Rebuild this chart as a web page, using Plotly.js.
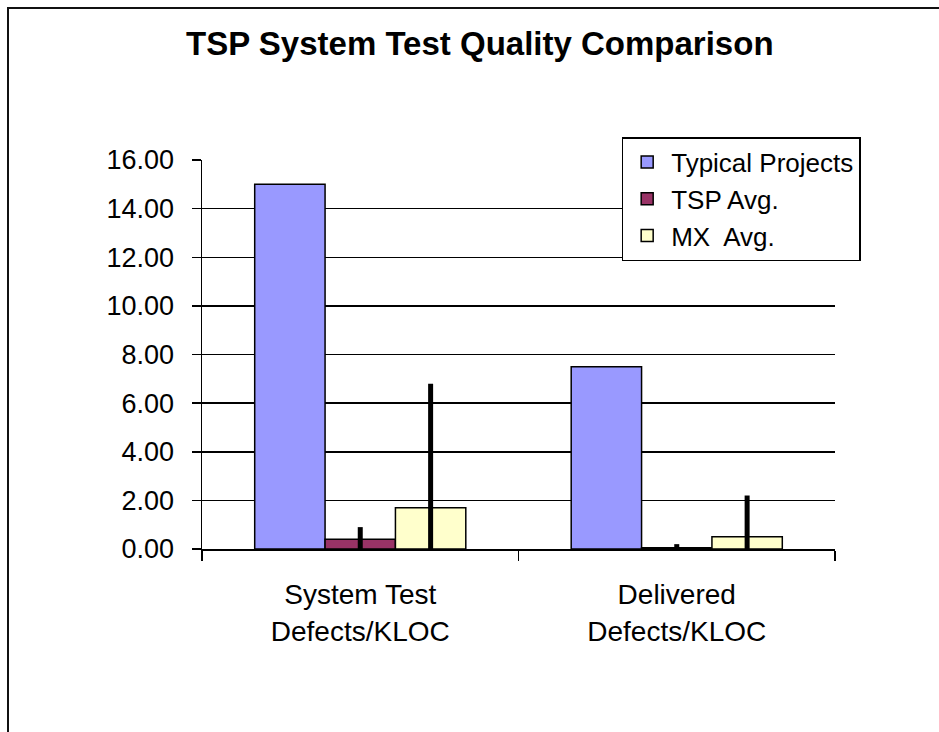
<!DOCTYPE html>
<html>
<head>
<meta charset="utf-8">
<script src="https://cdn.plot.ly/plotly-3.0.1.min.js"></script>
<style>
  html, body { margin: 0; padding: 0; background: #fff; }
  #wrap { position: relative; width: 939px; height: 732px; overflow: hidden; }
  #chart { position: absolute; left: 0; top: 0; width: 939px; height: 732px; }
  #frame { position: absolute; left: 7px; top: 7px; width: 960px; height: 800px;
           border-left: 2px solid #111; border-top: 2px solid #111; pointer-events: none; }
</style>
</head>
<body>
<div id="wrap">
  <div id="chart"></div>
  <div id="frame"></div>
</div>
<script>
const categories = ["System Test<br>Defects/KLOC", "Delivered<br>Defects/KLOC"];
const seriesNames = ["Typical Projects", "TSP Avg.", "MX  Avg."];
const typicalValues = [15.0, 7.5];
const tspValues = [0.4, 0.05];
const mxValues = [1.7, 0.5];
const tspErrors = [0.5, 0.15];
const mxErrors = [5.1, 1.7];
const yTickValues = [0, 2, 4, 6, 8, 10, 12, 14, 16];
const yTickLabels = ["0.00", "2.00", "4.00", "6.00", "8.00", "10.00", "12.00", "14.00", "16.00"];
const colors = ["#9999FF", "#993366", "#FFFFCC"];

const font = "Liberation Sans, Arial, sans-serif";

function errorSpec(arr) {
  return arr ? { type: "data", array: arr, symmetric: true, color: "#000", thickness: 5, width: 0, visible: true }
             : { visible: false };
}

const traces = [
  { type: "bar", name: seriesNames[0], x: categories, y: typicalValues,
    marker: { color: colors[0], line: { color: "#000", width: 1.5 } }, error_y: errorSpec(null) },
  { type: "bar", name: seriesNames[1], x: categories, y: tspValues,
    marker: { color: colors[1], line: { color: "#000", width: 1.5 } }, error_y: errorSpec(tspErrors) },
  { type: "bar", name: seriesNames[2], x: categories, y: mxValues,
    marker: { color: colors[2], line: { color: "#000", width: 1.5 } }, error_y: errorSpec(mxErrors) }
];

const layout = {
  width: 939, height: 732,
  margin: { l: 202, r: 104, t: 160, b: 183, pad: 0 },
  paper_bgcolor: "#fff", plot_bgcolor: "#fff",
  font: { family: font, color: "#000", size: 26 },
  title: { text: "<b>TSP System Test Quality Comparison</b>", font: { family: font, size: 33, color: "#000" },
           x: 0.511, xref: "container", xanchor: "center", y: 0.94, yref: "container", yanchor: "middle" },
  barmode: "group", bargap: 0.333, bargroupgap: 0,
  showlegend: true,
  legend: { x: 0.663, xanchor: "left", y: 1.059, yanchor: "top", bgcolor: "#fff",
            bordercolor: "#000", borderwidth: 1.5, font: { family: font, size: 26, color: "#000" },
            tracegroupgap: 0, itemwidth: 38 },
  xaxis: { type: "category", showgrid: false, showline: true, linecolor: "#000", linewidth: 1.5,
           ticks: "outside", tickson: "boundaries", ticklen: 10, tickwidth: 1.5, tickcolor: "#000",
           tickfont: { family: font, size: 28, color: "#000" }, ticklabelstandoff: 20, zeroline: false, fixedrange: true },
  yaxis: { range: [0, 16], tickvals: yTickValues, ticktext: yTickLabels, showgrid: true, gridcolor: "#000", gridwidth: 1.5,
           showline: true, linecolor: "#000", linewidth: 1.5, ticks: "outside", ticklen: 9, tickwidth: 1.5, tickcolor: "#000",
           tickfont: { family: font, size: 27, color: "#000" }, ticklabelstandoff: 12, zeroline: false, fixedrange: true }
};

Plotly.newPlot("chart", traces, layout, { displayModeBar: false, staticPlot: true });
</script>
</body>
</html>
